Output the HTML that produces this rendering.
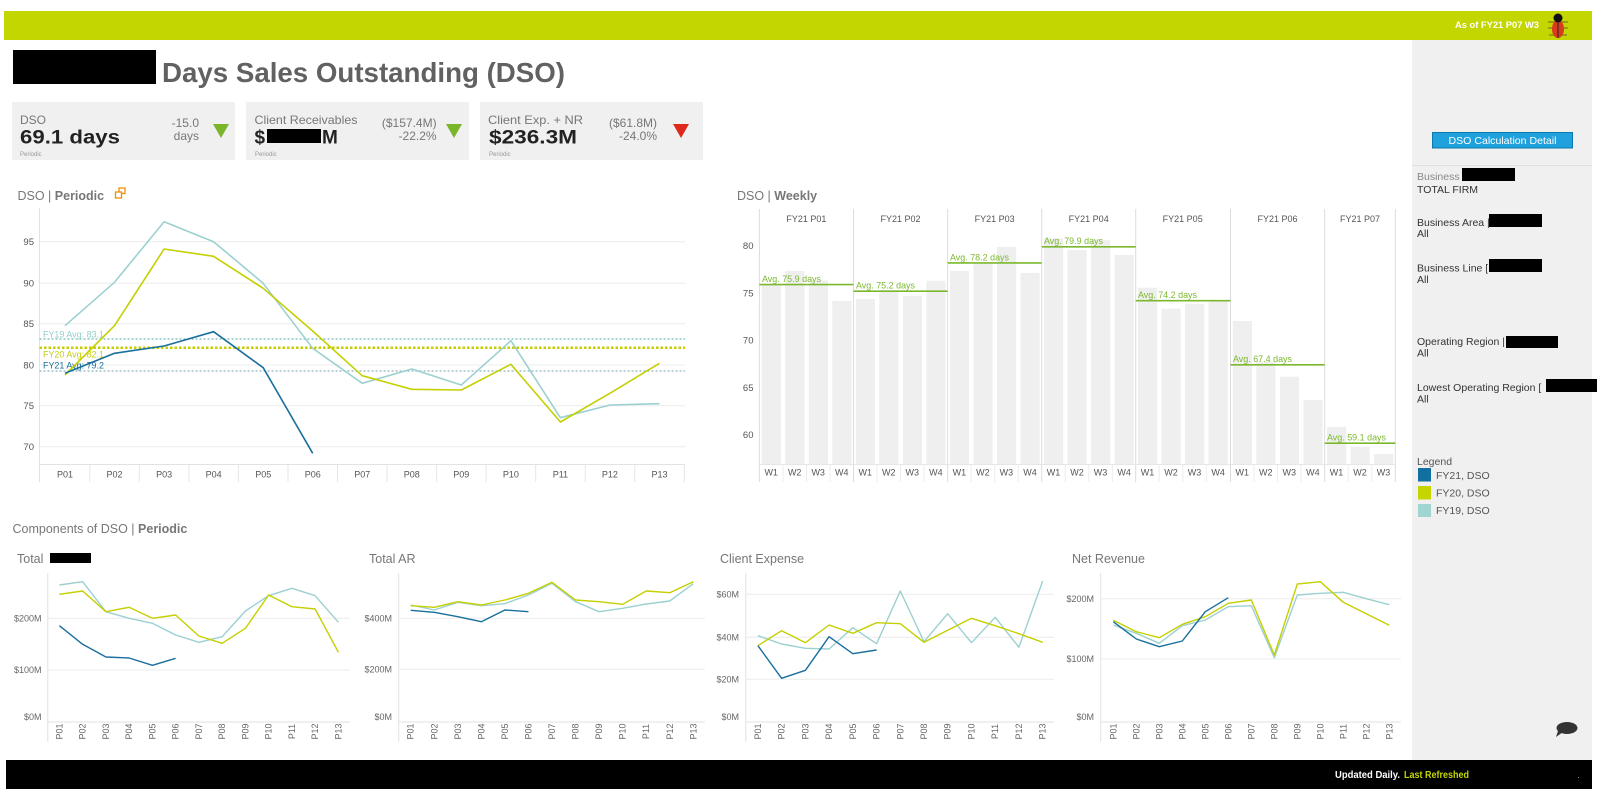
<!DOCTYPE html>
<html><head><meta charset="utf-8"><style>
html,body{margin:0;padding:0;background:#fff;width:1597px;height:796px;overflow:hidden}
svg{display:block;font-family:"Liberation Sans",sans-serif}
</style></head><body>
<svg width="1597" height="796" viewBox="0 0 1597 796" xmlns="http://www.w3.org/2000/svg">
<!-- header -->
<rect x="4" y="11" width="1588" height="29" fill="#c4d600"/>
<text x="1455" y="28" font-size="9" font-weight="bold" fill="#fff" textLength="84" lengthAdjust="spacingAndGlyphs">As of FY21 P07 W3</text>
<g transform="translate(1558,27)" stroke="#6b6b20" stroke-width="1">
<line x1="-10" y1="-5" x2="10" y2="-5"/><line x1="-10" y1="1" x2="10" y2="1"/><line x1="-9" y1="8" x2="9" y2="8"/>
<ellipse cx="0" cy="2" rx="6" ry="9" fill="#db3a1e" stroke="none"/>
<circle cx="0" cy="-9" r="4.5" fill="#111" stroke="none"/>
<line x1="0" y1="-5" x2="0" y2="11" stroke="#222"/>
</g>
<!-- sidebar -->
<rect x="1412" y="40" width="180" height="721" fill="#f0f0f0"/>
<line x1="1412" y1="165.5" x2="1592" y2="165.5" stroke="#e0e0e0"/>
<rect x="1432.5" y="132.5" width="140" height="15.5" fill="#1ea1dd" stroke="#0b78b0"/>
<text x="1502.5" y="144" text-anchor="middle" font-size="10.5" fill="#fff" textLength="108" lengthAdjust="spacingAndGlyphs">DSO Calculation Detail</text>
<g font-size="10.5" fill="#333">
<text x="1417" y="180" fill="#888">Business</text>
<rect x="1462" y="168" width="53" height="13" fill="#000"/>
<text x="1417" y="193">TOTAL FIRM</text>
<text x="1417" y="226">Business Area |</text>
<rect x="1489" y="214" width="53" height="13" fill="#000"/>
<text x="1417" y="237">All</text>
<text x="1417" y="271.5">Business Line [</text>
<rect x="1489" y="259" width="53" height="13" fill="#000"/>
<text x="1417" y="283">All</text>
<text x="1417" y="345">Operating Region |</text>
<rect x="1506" y="336" width="52" height="12" fill="#000"/>
<text x="1417" y="356.5">All</text>
<text x="1417" y="391">Lowest Operating Region [</text>
<rect x="1546" y="379" width="51" height="13" fill="#000"/>
<text x="1417" y="402.5">All</text>
<text x="1417" y="465" fill="#555">Legend</text>
<rect x="1418" y="468" width="13" height="13.5" fill="#1170a0"/>
<rect x="1418" y="486" width="13" height="13.5" fill="#c6d500"/>
<rect x="1418" y="504" width="13" height="13" fill="#a0d5d2"/>
<text x="1436" y="479" fill="#555">FY21, DSO</text>
<text x="1436" y="496.5" fill="#555">FY20, DSO</text>
<text x="1436" y="514" fill="#555">FY19, DSO</text>
</g>
<!-- chat bubble -->
<ellipse cx="1567" cy="728" rx="10.5" ry="6" fill="#333"/>
<polygon points="1558,731 1556,737 1563,732" fill="#333"/>
<!-- footer -->
<rect x="6" y="760" width="1586" height="29" fill="#000"/>
<text x="1335" y="778" font-size="10" font-weight="bold" fill="#fff" textLength="65" lengthAdjust="spacingAndGlyphs">Updated Daily.</text>
<text x="1404" y="778" font-size="10" font-weight="bold" fill="#c4d600" textLength="65" lengthAdjust="spacingAndGlyphs">Last Refreshed</text>
<rect x="1578" y="777" width="1" height="1" fill="#888"/>
<!-- title -->
<rect x="13" y="50" width="143" height="34" fill="#000"/>
<text x="162" y="82" font-size="28" font-weight="bold" fill="#616161" textLength="403" lengthAdjust="spacingAndGlyphs">Days Sales Outstanding (DSO)</text>
<!-- KPI boxes -->
<rect x="12" y="102" width="223" height="58" fill="#f0f0f0"/>
<rect x="246" y="102" width="223" height="58" fill="#f0f0f0"/>
<rect x="480" y="102" width="223" height="58" fill="#f0f0f0"/>
<g font-size="12" fill="#777">
<text x="20" y="124">DSO</text>
<text x="199" y="127" text-anchor="end">-15.0</text>
<text x="199" y="140" text-anchor="end">days</text>
<text x="254.5" y="124" textLength="103" lengthAdjust="spacingAndGlyphs">Client Receivables</text>
<text x="436.6" y="127" text-anchor="end">($157.4M)</text>
<text x="436.6" y="140" text-anchor="end">-22.2%</text>
<text x="488" y="124" textLength="95" lengthAdjust="spacingAndGlyphs">Client Exp. + NR</text>
<text x="657" y="127" text-anchor="end">($61.8M)</text>
<text x="657" y="140" text-anchor="end">-24.0%</text>
</g>
<g font-size="19" font-weight="bold" fill="#222">
<text x="20" y="143.5" textLength="100" lengthAdjust="spacingAndGlyphs">69.1 days</text>
<text x="254.5" y="143.5">$</text>
<text x="322" y="143.5">M</text>
<text x="489" y="143.5" textLength="88" lengthAdjust="spacingAndGlyphs">$236.3M</text>
</g>
<rect x="267" y="129" width="54" height="14" fill="#000"/>
<g font-size="6" fill="#999"><text x="20" y="156">Periodic</text><text x="255" y="156">Periodic</text><text x="489" y="156">Periodic</text></g>
<polygon points="213,124 229,124 221,138" fill="#7ab52a"/>
<polygon points="446,124 462,124 454,138" fill="#7ab52a"/>
<polygon points="673,124 689,124 681,138" fill="#e0291d"/>

<!-- DSO Periodic -->
<text x="17.5" y="200" font-size="12.5" fill="#777">DSO | <tspan font-weight="bold">Periodic</tspan></text>
<g stroke="#f28e00" stroke-width="1.3" fill="none"><rect x="119" y="188" width="6" height="5.5"/><rect x="115.5" y="192" width="6" height="6" fill="#fff"/></g>
<g stroke="#ececec" stroke-width="1">
<line x1="39.5" y1="241.7" x2="685" y2="241.7"/><line x1="39.5" y1="283.3" x2="685" y2="283.3"/>
<line x1="39.5" y1="323.7" x2="685" y2="323.7"/><line x1="39.5" y1="365" x2="685" y2="365"/>
<line x1="39.5" y1="405.7" x2="685" y2="405.7"/><line x1="39.5" y1="446.7" x2="685" y2="446.7"/>
</g>
<line x1="39.5" y1="208" x2="39.5" y2="482" stroke="#e2e2e2"/>
<line x1="39.5" y1="464.5" x2="685" y2="464.5" stroke="#e2e2e2"/>
<g stroke="#e6e6e6"><line x1="89.8" y1="464.5" x2="89.8" y2="482"/><line x1="139.3" y1="464.5" x2="139.3" y2="482"/><line x1="188.9" y1="464.5" x2="188.9" y2="482"/><line x1="238.4" y1="464.5" x2="238.4" y2="482"/><line x1="288" y1="464.5" x2="288" y2="482"/><line x1="337.5" y1="464.5" x2="337.5" y2="482"/><line x1="387" y1="464.5" x2="387" y2="482"/><line x1="436.6" y1="464.5" x2="436.6" y2="482"/><line x1="486.1" y1="464.5" x2="486.1" y2="482"/><line x1="535.7" y1="464.5" x2="535.7" y2="482"/><line x1="585.2" y1="464.5" x2="585.2" y2="482"/><line x1="634.7" y1="464.5" x2="634.7" y2="482"/><line x1="684.3" y1="464.5" x2="684.3" y2="482"/></g>
<g font-size="9.5" fill="#555" text-anchor="end">
<text x="34" y="245">95</text><text x="34" y="286.6">90</text><text x="34" y="327">85</text><text x="34" y="368.3">80</text><text x="34" y="409">75</text><text x="34" y="450">70</text>
</g>
<g font-size="9" fill="#555" text-anchor="middle">
<text x="65" y="477.5">P01</text><text x="114.5" y="477.5">P02</text><text x="164.1" y="477.5">P03</text><text x="213.6" y="477.5">P04</text><text x="263.2" y="477.5">P05</text><text x="312.7" y="477.5">P06</text><text x="362.2" y="477.5">P07</text><text x="411.8" y="477.5">P08</text><text x="461.3" y="477.5">P09</text><text x="510.9" y="477.5">P10</text><text x="560.4" y="477.5">P11</text><text x="609.9" y="477.5">P12</text><text x="659.5" y="477.5">P13</text>
</g>
<line x1="39.5" y1="339" x2="685" y2="339" stroke="#86c6c4" stroke-width="1.5" stroke-dasharray="2,2"/>
<line x1="39.5" y1="347.7" x2="685" y2="347.7" stroke="#c6cc00" stroke-width="2.5" stroke-dasharray="2.5,2"/>
<line x1="39.5" y1="371" x2="685" y2="371" stroke="#9dbfca" stroke-width="1.5" stroke-dasharray="2,2"/>
<text x="43" y="337.5" font-size="9.5" fill="#93cdca" textLength="61" lengthAdjust="spacingAndGlyphs">FY19 Avg: 83.1</text>
<text x="43" y="357.5" font-size="9.5" fill="#c4cf10" textLength="61" lengthAdjust="spacingAndGlyphs">FY20 Avg: 82.1</text>
<text x="43" y="368.5" font-size="9.5" fill="#1a6f9c" textLength="61" lengthAdjust="spacingAndGlyphs">FY21 Avg: 79.2</text>
<g fill="none" stroke-width="1.6" stroke-linejoin="round">
<polyline stroke="#9dd0d0" points="65,325.7 114.5,282.3 164.1,221.7 213.6,241.7 263.2,283.3 312.7,348.3 362.2,383.3 411.8,369 461.3,385 510.9,340.7 560.4,417.7 609.9,405 659.5,403.7"/>
<polyline stroke="#c4d000" points="65,375 114.5,325.7 164.1,249 213.6,256.3 263.2,288.3 312.7,331 362.2,375.7 411.8,389.3 461.3,390 510.9,364.3 560.4,422 609.9,393.3 659.5,363.3"/>
<polyline stroke="#1a6f9c" points="65,373.3 114.5,353.3 164.1,346 213.6,331.7 263.2,367.7 312.7,453.3"/>
</g>

<!-- DSO Weekly -->
<text x="737" y="200" font-size="12.5" fill="#777">DSO | <tspan font-weight="bold">Weekly</tspan></text>
<g fill="#efefef">
<rect x="761.7" y="283.7" width="19.2" height="180.8"/><rect x="785.2" y="270.9" width="19.2" height="193.6"/><rect x="808.8" y="280.3" width="19.2" height="184.2"/><rect x="832.3" y="300.9" width="19.2" height="163.6"/>
<rect x="855.8" y="298.9" width="19.2" height="165.6"/><rect x="879.3" y="290.3" width="19.2" height="174.2"/><rect x="902.9" y="295.9" width="19.2" height="168.6"/><rect x="926.4" y="280.8" width="19.2" height="183.7"/>
<rect x="949.9" y="270.9" width="19.2" height="193.6"/><rect x="973.4" y="262.2" width="19.2" height="202.3"/><rect x="997" y="246.8" width="19.2" height="217.7"/><rect x="1020.5" y="272.9" width="19.2" height="191.6"/>
<rect x="1044" y="238.3" width="19.2" height="226.2"/><rect x="1067.5" y="249.9" width="19.2" height="214.6"/><rect x="1091.1" y="240.2" width="19.2" height="224.3"/><rect x="1114.6" y="254.9" width="19.2" height="209.6"/>
<rect x="1138" y="287.7" width="19.2" height="176.8"/><rect x="1161.5" y="308.7" width="19.2" height="155.8"/><rect x="1185.1" y="304" width="19.2" height="160.5"/><rect x="1208.6" y="300" width="19.2" height="164.5"/>
<rect x="1232.8" y="321" width="19.2" height="143.5"/><rect x="1256.3" y="361.6" width="19.2" height="102.9"/><rect x="1279.9" y="376.7" width="19.2" height="87.8"/><rect x="1303.4" y="400" width="19.2" height="64.5"/>
<rect x="1327" y="427" width="19.2" height="37.5"/><rect x="1350.5" y="446.7" width="19.2" height="17.8"/><rect x="1374.1" y="454" width="19.2" height="10.5"/>
</g>
<g stroke="#dcdcdc">
<line x1="759.4" y1="209" x2="759.4" y2="482"/><line x1="853.5" y1="209" x2="853.5" y2="482"/><line x1="947.6" y1="209" x2="947.6" y2="482"/><line x1="1041.7" y1="209" x2="1041.7" y2="482"/><line x1="1135.7" y1="209" x2="1135.7" y2="482"/><line x1="1230.5" y1="209" x2="1230.5" y2="482"/><line x1="1324.7" y1="209" x2="1324.7" y2="482"/><line x1="1395.3" y1="209" x2="1395.3" y2="482"/>
<line x1="759.4" y1="464.5" x2="1395.3" y2="464.5" stroke="#e6e6e6"/>
</g>
<g stroke="#ececec">
<line x1="783" y1="464.5" x2="783" y2="482"/><line x1="806.5" y1="464.5" x2="806.5" y2="482"/><line x1="830" y1="464.5" x2="830" y2="482"/>
<line x1="877" y1="464.5" x2="877" y2="482"/><line x1="900.5" y1="464.5" x2="900.5" y2="482"/><line x1="924.1" y1="464.5" x2="924.1" y2="482"/>
<line x1="971.1" y1="464.5" x2="971.1" y2="482"/><line x1="994.7" y1="464.5" x2="994.7" y2="482"/><line x1="1018.2" y1="464.5" x2="1018.2" y2="482"/>
<line x1="1065.2" y1="464.5" x2="1065.2" y2="482"/><line x1="1088.8" y1="464.5" x2="1088.8" y2="482"/><line x1="1112.3" y1="464.5" x2="1112.3" y2="482"/>
<line x1="1159.2" y1="464.5" x2="1159.2" y2="482"/><line x1="1182.8" y1="464.5" x2="1182.8" y2="482"/><line x1="1206.3" y1="464.5" x2="1206.3" y2="482"/>
<line x1="1254" y1="464.5" x2="1254" y2="482"/><line x1="1277.6" y1="464.5" x2="1277.6" y2="482"/><line x1="1301.1" y1="464.5" x2="1301.1" y2="482"/>
<line x1="1348.2" y1="464.5" x2="1348.2" y2="482"/><line x1="1371.8" y1="464.5" x2="1371.8" y2="482"/>
</g>
<g font-size="9.5" fill="#555" text-anchor="end">
<text x="753.5" y="249.2">80</text><text x="753.5" y="296.4">75</text><text x="753.5" y="343.6">70</text><text x="753.5" y="390.8">65</text><text x="753.5" y="438">60</text>
</g>
<g font-size="9" fill="#555" text-anchor="middle">
<text x="806.4" y="222">FY21 P01</text><text x="900.5" y="222">FY21 P02</text><text x="994.6" y="222">FY21 P03</text><text x="1088.7" y="222">FY21 P04</text><text x="1182.7" y="222">FY21 P05</text><text x="1277.5" y="222">FY21 P06</text><text x="1360" y="222">FY21 P07</text>
</g>
<g font-size="9" fill="#555" text-anchor="middle">
<text x="771.2" y="475.5">W1</text><text x="794.7" y="475.5">W2</text><text x="818.2" y="475.5">W3</text><text x="841.8" y="475.5">W4</text>
<text x="865.3" y="475.5">W1</text><text x="888.8" y="475.5">W2</text><text x="912.3" y="475.5">W3</text><text x="935.9" y="475.5">W4</text>
<text x="959.4" y="475.5">W1</text><text x="982.9" y="475.5">W2</text><text x="1006.4" y="475.5">W3</text><text x="1030" y="475.5">W4</text>
<text x="1053.5" y="475.5">W1</text><text x="1077" y="475.5">W2</text><text x="1100.5" y="475.5">W3</text><text x="1124.1" y="475.5">W4</text>
<text x="1147.5" y="475.5">W1</text><text x="1171" y="475.5">W2</text><text x="1194.5" y="475.5">W3</text><text x="1218.1" y="475.5">W4</text>
<text x="1242.3" y="475.5">W1</text><text x="1265.8" y="475.5">W2</text><text x="1289.3" y="475.5">W3</text><text x="1312.9" y="475.5">W4</text>
<text x="1336.5" y="475.5">W1</text><text x="1360" y="475.5">W2</text><text x="1383.5" y="475.5">W3</text>
</g>
<g stroke="#7cb82f" stroke-width="1.6">
<line x1="759.4" y1="284.6" x2="853.5" y2="284.6"/><line x1="853.5" y1="291.2" x2="947.6" y2="291.2"/><line x1="947.6" y1="262.9" x2="1041.7" y2="262.9"/><line x1="1041.7" y1="246.8" x2="1135.7" y2="246.8"/><line x1="1135.7" y1="300.7" x2="1230.5" y2="300.7"/><line x1="1230.5" y1="364.8" x2="1324.7" y2="364.8"/><line x1="1324.7" y1="443.2" x2="1395.3" y2="443.2"/>
</g>
<g font-size="9.5" fill="#7cb82f">
<text x="762" y="282" textLength="59" lengthAdjust="spacingAndGlyphs">Avg. 75.9 days</text>
<text x="856" y="288.6" textLength="59" lengthAdjust="spacingAndGlyphs">Avg. 75.2 days</text>
<text x="950" y="260.3" textLength="59" lengthAdjust="spacingAndGlyphs">Avg. 78.2 days</text>
<text x="1044" y="244.2" textLength="59" lengthAdjust="spacingAndGlyphs">Avg. 79.9 days</text>
<text x="1138" y="298.1" textLength="59" lengthAdjust="spacingAndGlyphs">Avg. 74.2 days</text>
<text x="1233" y="362.2" textLength="59" lengthAdjust="spacingAndGlyphs">Avg. 67.4 days</text>
<text x="1327" y="440.6" textLength="59" lengthAdjust="spacingAndGlyphs">Avg. 59.1 days</text>
</g>

<!-- Components -->
<text x="12.5" y="533" font-size="12.5" fill="#777">Components of DSO | <tspan font-weight="bold">Periodic</tspan></text>
<g font-size="12.5" fill="#777">
<text x="17" y="563">Total</text>
<text x="369" y="563">Total AR</text>
<text x="720" y="563">Client Expense</text>
<text x="1072" y="563">Net Revenue</text>
</g>
<rect x="50" y="553" width="41" height="10" fill="#000"/>

<!-- gridlines & axes -->
<g stroke="#ececec">
<line x1="47.8" y1="618.3" x2="350" y2="618.3"/><line x1="47.8" y1="670" x2="350" y2="670"/>
<line x1="398.7" y1="618.3" x2="705" y2="618.3"/><line x1="398.7" y1="669.3" x2="705" y2="669.3"/>
<line x1="745.8" y1="594.3" x2="1054" y2="594.3"/><line x1="745.8" y1="637.3" x2="1054" y2="637.3"/><line x1="745.8" y1="679.3" x2="1054" y2="679.3"/>
<line x1="1100.7" y1="598.7" x2="1401" y2="598.7"/><line x1="1100.7" y1="659" x2="1401" y2="659"/>
</g>
<g stroke="#e2e2e2">
<line x1="47.8" y1="573" x2="47.8" y2="742"/><line x1="47.8" y1="722" x2="350" y2="722"/>
<line x1="398.7" y1="573" x2="398.7" y2="742"/><line x1="398.7" y1="722" x2="705" y2="722"/>
<line x1="745.8" y1="573" x2="745.8" y2="742"/><line x1="745.8" y1="722" x2="1054" y2="722"/>
<line x1="1100.7" y1="573" x2="1100.7" y2="742"/><line x1="1100.7" y1="722" x2="1401" y2="722"/>
</g>
<g font-size="9" fill="#666" text-anchor="end">
<text x="41.5" y="621.5">$200M</text><text x="41.5" y="673.2">$100M</text><text x="41.5" y="720">$0M</text>
<text x="392" y="621.5">$400M</text><text x="392" y="672.5">$200M</text><text x="392" y="720">$0M</text>
<text x="739" y="597.5">$60M</text><text x="739" y="640.5">$40M</text><text x="739" y="682.5">$20M</text><text x="739" y="720">$0M</text>
<text x="1094" y="601.9">$200M</text><text x="1094" y="662.2">$100M</text><text x="1094" y="720">$0M</text>
</g>
<g font-size="9" fill="#666" text-anchor="middle" dominant-baseline="central">
<text transform="translate(59.4,731.5) rotate(-90)">P01</text><text transform="translate(82.65,731.5) rotate(-90)">P02</text><text transform="translate(105.9,731.5) rotate(-90)">P03</text><text transform="translate(129.15,731.5) rotate(-90)">P04</text><text transform="translate(152.4,731.5) rotate(-90)">P05</text><text transform="translate(175.65,731.5) rotate(-90)">P06</text><text transform="translate(198.9,731.5) rotate(-90)">P07</text><text transform="translate(222.15,731.5) rotate(-90)">P08</text><text transform="translate(245.4,731.5) rotate(-90)">P09</text><text transform="translate(268.65,731.5) rotate(-90)">P10</text><text transform="translate(291.9,731.5) rotate(-90)">P11</text><text transform="translate(315.15,731.5) rotate(-90)">P12</text><text transform="translate(338.4,731.5) rotate(-90)">P13</text>
<text transform="translate(410.7,731.5) rotate(-90)">P01</text><text transform="translate(434.25,731.5) rotate(-90)">P02</text><text transform="translate(457.8,731.5) rotate(-90)">P03</text><text transform="translate(481.35,731.5) rotate(-90)">P04</text><text transform="translate(504.9,731.5) rotate(-90)">P05</text><text transform="translate(528.45,731.5) rotate(-90)">P06</text><text transform="translate(552,731.5) rotate(-90)">P07</text><text transform="translate(575.55,731.5) rotate(-90)">P08</text><text transform="translate(599.1,731.5) rotate(-90)">P09</text><text transform="translate(622.65,731.5) rotate(-90)">P10</text><text transform="translate(646.2,731.5) rotate(-90)">P11</text><text transform="translate(669.75,731.5) rotate(-90)">P12</text><text transform="translate(693.3,731.5) rotate(-90)">P13</text>
<text transform="translate(757.9,731.5) rotate(-90)">P01</text><text transform="translate(781.6,731.5) rotate(-90)">P02</text><text transform="translate(805.4,731.5) rotate(-90)">P03</text><text transform="translate(829.1,731.5) rotate(-90)">P04</text><text transform="translate(852.8,731.5) rotate(-90)">P05</text><text transform="translate(876.6,731.5) rotate(-90)">P06</text><text transform="translate(900.3,731.5) rotate(-90)">P07</text><text transform="translate(924,731.5) rotate(-90)">P08</text><text transform="translate(947.7,731.5) rotate(-90)">P09</text><text transform="translate(971.5,731.5) rotate(-90)">P10</text><text transform="translate(995.2,731.5) rotate(-90)">P11</text><text transform="translate(1018.9,731.5) rotate(-90)">P12</text><text transform="translate(1042.7,731.5) rotate(-90)">P13</text>
<text transform="translate(1113.3,731.5) rotate(-90)">P01</text><text transform="translate(1136.3,731.5) rotate(-90)">P02</text><text transform="translate(1159.3,731.5) rotate(-90)">P03</text><text transform="translate(1182.3,731.5) rotate(-90)">P04</text><text transform="translate(1205.3,731.5) rotate(-90)">P05</text><text transform="translate(1228.3,731.5) rotate(-90)">P06</text><text transform="translate(1251.3,731.5) rotate(-90)">P07</text><text transform="translate(1274.3,731.5) rotate(-90)">P08</text><text transform="translate(1297.3,731.5) rotate(-90)">P09</text><text transform="translate(1320.3,731.5) rotate(-90)">P10</text><text transform="translate(1343.3,731.5) rotate(-90)">P11</text><text transform="translate(1366.3,731.5) rotate(-90)">P12</text><text transform="translate(1389.3,731.5) rotate(-90)">P13</text>
</g>
<g fill="none" stroke-width="1.4" stroke-linejoin="round">
<!-- chart1 -->
<polyline stroke="#9dd0d0" points="59.4,585 82.65,581.7 105.9,611.7 129.15,618.3 152.4,623.3 175.65,635 198.9,642.3 222.15,636.7 245.4,611 268.65,595.7 291.9,588.3 315.15,595.7 338.4,622.3"/>
<polyline stroke="#c4d000" points="59.4,594.3 82.65,591 105.9,611.7 129.15,607.3 152.4,618.3 175.65,615 198.9,636 222.15,643.3 245.4,628.3 268.65,595 291.9,606.7 315.15,609 338.4,652.3"/>
<polyline stroke="#1a6f9c" points="59.4,625.7 82.65,644.3 105.9,657 129.15,658 152.4,665.3 175.65,658.3"/>
<!-- chart2 -->
<polyline stroke="#9dd0d0" points="410.7,605 434.25,610 457.8,602.3 481.35,605.7 504.9,603.7 528.45,595 552,583.3 575.55,601.7 599.1,611.7 622.65,608.3 646.2,604 669.75,601 693.3,583.7"/>
<polyline stroke="#c4d000" points="410.7,605.7 434.25,607.3 457.8,601.7 481.35,605 504.9,600 528.45,593.3 552,582.3 575.55,600 599.1,601.7 622.65,604.3 646.2,591 669.75,592.7 693.3,581.7"/>
<polyline stroke="#1a6f9c" points="410.7,610.3 434.25,612.3 457.8,616.7 481.35,621.7 504.9,610 528.45,611.7"/>
<!-- chart3 -->
<polyline stroke="#9dd0d0" points="757.9,635.7 781.6,644 805.4,648.3 829.1,649 852.8,627.7 876.6,643.7 900.3,591 924,641.7 947.7,613.7 971.5,642.7 995.2,617.3 1018.9,647.3 1042.7,581"/>
<polyline stroke="#c4d000" points="757.9,645.7 781.6,630.7 805.4,642.7 829.1,625 852.8,633.3 876.6,622.7 900.3,623.7 924,642.3 947.7,630.3 971.5,618.3 995.2,625.7 1018.9,633.7 1042.7,642.3"/>
<polyline stroke="#1a6f9c" points="757.9,645.7 781.6,678.3 805.4,670.3 829.1,636.7 852.8,653.7 876.6,650"/>
<!-- chart4 -->
<polyline stroke="#9dd0d0" points="1113.3,625 1136.3,633.3 1159.3,643.3 1182.3,625.7 1205.3,620 1228.3,606.7 1251.3,605.7 1274.3,657.7 1297.3,595 1320.3,593.3 1343.3,592.3 1366.3,598.7 1389.3,604.7"/>
<polyline stroke="#c4d000" points="1113.3,620.3 1136.3,631.7 1159.3,637.7 1182.3,624.3 1205.3,616.7 1228.3,603.3 1251.3,600 1274.3,655 1297.3,584 1320.3,581.7 1343.3,602.3 1366.3,613.7 1389.3,625.3"/>
<polyline stroke="#1a6f9c" points="1113.3,621.7 1136.3,639 1159.3,646.7 1182.3,641 1205.3,611.7 1228.3,597.7"/>
</g>
</svg>
</body></html>
